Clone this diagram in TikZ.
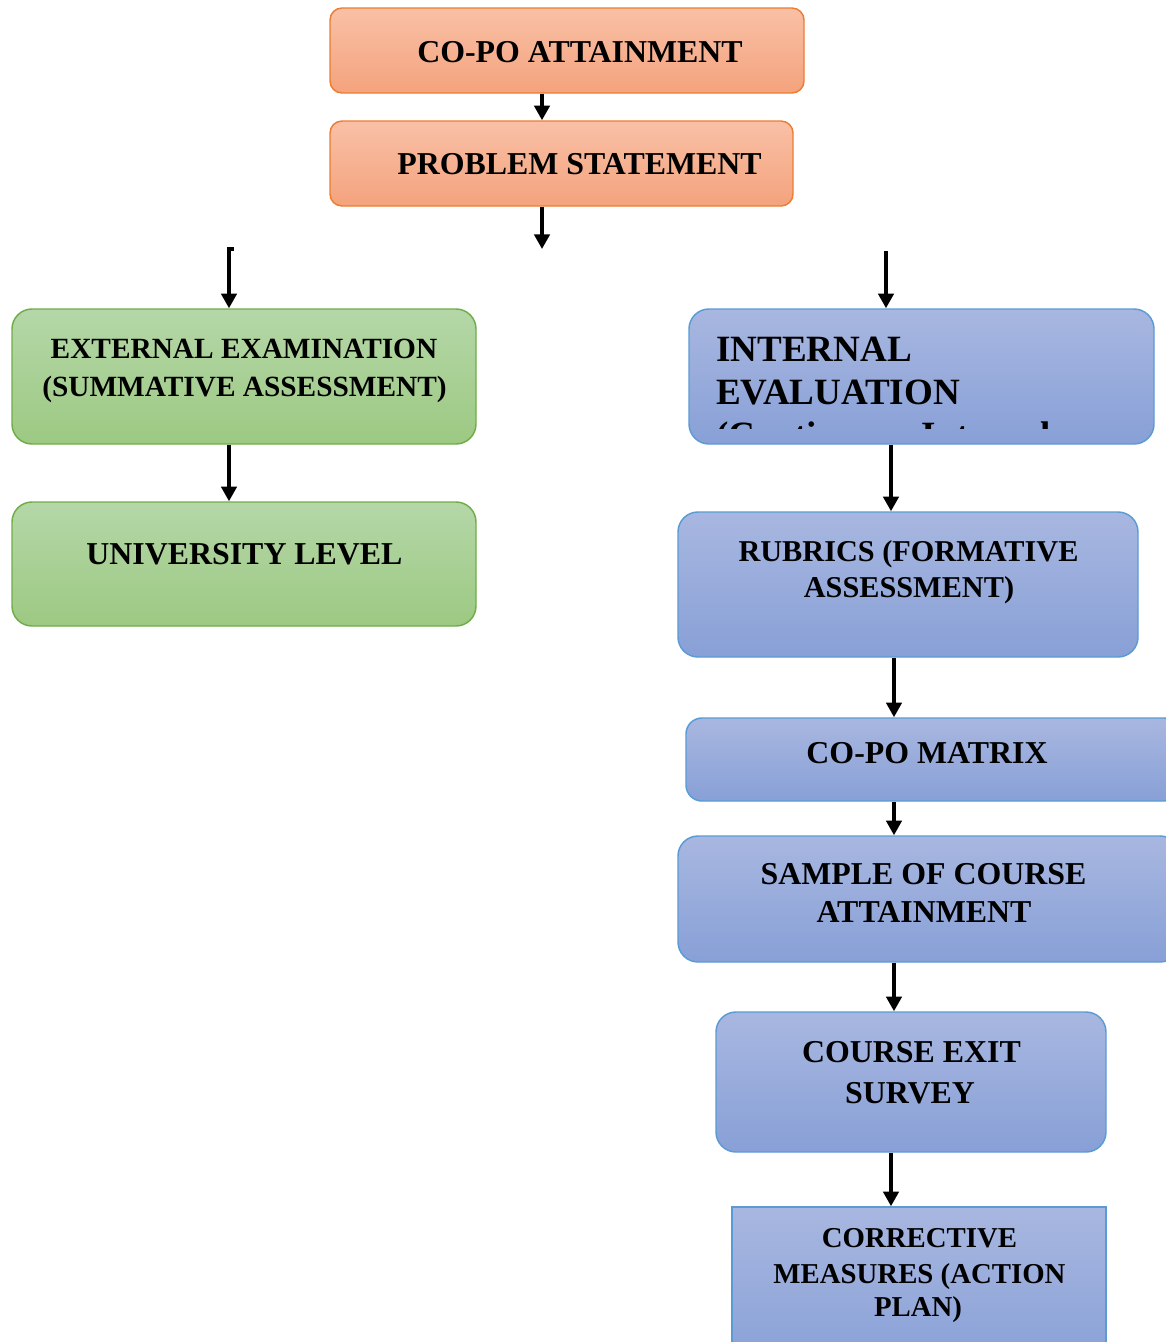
\documentclass[tikz,border=0pt]{standalone}
\usepackage{fontspec}
\setmainfont{Liberation Serif}
\usetikzlibrary{arrows.meta,fit}
\definecolor{oT}{HTML}{F9C0A6}
\definecolor{oB}{HTML}{F4A37D}
\definecolor{oD}{HTML}{ED7D31}
\definecolor{gT}{HTML}{B5D7A8}
\definecolor{gB}{HTML}{9CC982}
\definecolor{gD}{HTML}{70AD47}
\definecolor{bT}{HTML}{A8B7E0}
\definecolor{bB}{HTML}{88A0D7}
\definecolor{bD}{HTML}{5B9BD5}
\begin{document}
\begin{tikzpicture}[x=0.75pt,y=-0.75pt,
  box/.style={draw, line width=1.1pt, inner sep=0pt},
  obox/.style={box, rounded corners=9pt, draw=oD, top color=oT, bottom color=oB},
  gbox/.style={box, rounded corners=15pt, draw=gD, top color=gT, bottom color=gB},
  bbox/.style={box, rounded corners=15pt, draw=bD, top color=bT, bottom color=bB},
  bsq/.style={box, draw=bD, top color=bT, bottom color=bB},
  txt/.style={anchor=base, inner sep=0pt, font=\bfseries\fontsize{23.9}{28}\selectfont},
  txs/.style={txt, font=\bfseries\fontsize{22}{26}\selectfont},
  txl/.style={anchor=base west, inner sep=0pt, font=\bfseries\fontsize{27.8}{32}\selectfont},
  arr/.style={line width=2.6pt, -{Triangle[width=11.5pt,length=11pt]}}]
\clip (0,0) rectangle (1166,1342);
\fill[white] (0,0) rectangle (1166,1342);

% boxes
\node[obox, fit={(330,8) (804,93)}] (att) {};
\node[obox, fit={(330,121) (793,206)}] (prob) {};
\node[gbox, fit={(12,309) (476,444)}] (ext) {};
\node[gbox, fit={(12,502) (476,626)}] (univ) {};
\node[bbox, fit={(689,309) (1154,444)}] (int) {};
\node[bbox, fit={(678,512) (1138,657)}] (rub) {};
\node[bbox, rounded corners=12pt, fit={(686,718) (1180,801)}] (mat) {};
\node[bbox, fit={(678,836) (1180,962)}] (samp) {};
\node[bbox, fit={(716,1012) (1106,1152)}] (exit) {};
\node[bsq, fit={(732,1207) (1106,1370)}] (corr) {};

% texts
\node[txt] (t1) at (580,62) {CO-PO ATTAINMENT};
\node[txt] (t2) at (579.5,174) {PROBLEM STATEMENT};
\node[txs] (t3a) at (244,358) {EXTERNAL EXAMINATION};
\node[txs] (t3b) at (244.5,396) {(SUMMATIVE ASSESSMENT)};
\node[txt] (t4) at (244.5,564) {UNIVERSITY LEVEL};
\begin{scope}
\clip (689,309) rectangle (1154,428);
\node[txl] (t5a) at (716,361) {INTERNAL};
\node[txl] (t5b) at (716,404) {EVALUATION};
\node[txl] (t5c) at (716,447) {(Continuous Internal};
\end{scope}
\node[txs, font=\bfseries\fontsize{22.7}{26}\selectfont] (t6a) at (908.5,561) {RUBRICS (FORMATIVE};
\node[txs, font=\bfseries\fontsize{22.7}{26}\selectfont] (t6b) at (909,597) {ASSESSMENT)};
\node[txt] (t7) at (927,763) {CO-PO MATRIX};
\node[txt] (t8a) at (923.5,884) {SAMPLE OF COURSE};
\node[txt] (t8b) at (924,922) {ATTAINMENT};
\node[txt] (t9a) at (911.5,1062) {COURSE EXIT};
\node[txt] (t9b) at (910,1103) {SURVEY};
\node[txs, font=\bfseries\fontsize{21.6}{26}\selectfont] (t10a) at (919.5,1247) {CORRECTIVE};
\node[txs, font=\bfseries\fontsize{21.6}{26}\selectfont] (t10b) at (919.5,1283) {MEASURES (ACTION};
\node[txs, font=\bfseries\fontsize{21.6}{26}\selectfont] (t10c) at (918,1316) {PLAN)};

% connector guides
\coordinate (xa) at (542,0);
\coordinate (pend) at (542,249);
\coordinate (ltick) at (234,249);
\coordinate (lstart) at (229,249);
\coordinate (rstart) at (886,251);
\coordinate (xl) at (229,0);
\coordinate (xr1) at (891,0);
\coordinate (xr2) at (894,0);

% connectors
\draw[arr] (att.south -| xa) -- (prob.north -| xa);
\draw[arr] (prob.south -| xa) -- (pend);
\draw[arr] (ltick) -- (lstart) -- (ext.north -| lstart);
\draw[arr] (rstart) -- (int.north -| rstart);
\draw[arr] (ext.south -| xl) -- (univ.north -| xl);
\draw[arr] (int.south -| xr1) -- (rub.north -| xr1);
\draw[arr] (rub.south -| xr2) -- (mat.north -| xr2);
\draw[arr] (mat.south -| xr2) -- (samp.north -| xr2);
\draw[arr] (samp.south -| xr2) -- (exit.north -| xr2);
\draw[arr] (exit.south -| xr1) -- (corr.north -| xr1);
\end{tikzpicture}
\end{document}
